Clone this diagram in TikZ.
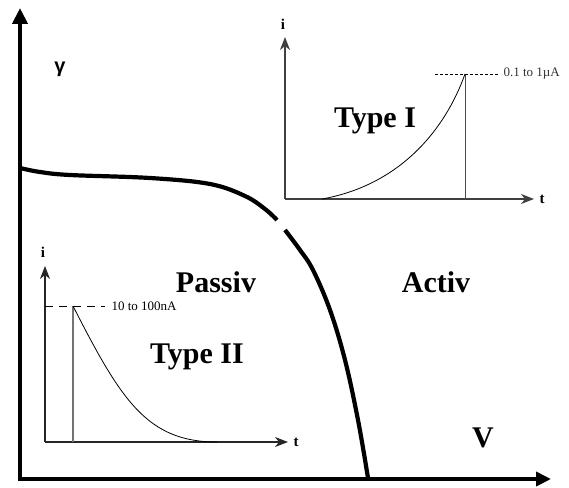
\documentclass[tikz,border=0pt]{standalone}
\usepackage{fontspec}
\setmainfont{Liberation Serif}
\newfontfamily\gsans{Liberation Sans}
\usetikzlibrary{arrows.meta}
\begin{document}
\begin{tikzpicture}[x=1pt,y=-1pt,
  bigaxis/.style={line width=4.2pt,-{Triangle[length=16pt,width=15pt]}},
  smallaxis/.style={line width=1.5pt,draw=black!75,-{Stealth[length=13pt,width=10pt,inset=4pt]}},
  thin/.style={line width=0.8pt},
  bigcurve/.style={line width=4.2pt,line cap=butt},
  region/.style={font=\fontsize{30}{30}\selectfont\bfseries,anchor=base},
  small/.style={font=\fontsize{13}{13}\selectfont},
  axlab/.style={font=\fontsize{15}{15}\selectfont\bfseries}]
\useasboundingbox (0,0) rectangle (569,487);
% main axes
\coordinate (O) at (20,479);
\coordinate (Ytop) at (20,8);
\coordinate (Xend) at (551,479);
\draw[bigaxis] (20,477) -- (Ytop);
\draw[bigaxis,-{Triangle[length=15pt,width=14pt]}] (18,479) -- (Xend);
\node (gamma) at (60,69) {\gsans\fontsize{20}{20}\selectfont\bfseries γ};
% big curve
\draw[bigcurve] plot[smooth,tension=0.6] coordinates {(20,168) (40,172) (70,175) (150,178) (210,184) (245,196) (265,209) (277,220)};
\draw[bigcurve] plot[smooth,tension=0.6] coordinates {(285,230) (300,250) (313,270) (330,310) (345,360) (358,420) (368,478)};
% region labels
\node[region] (passiv) at (216,292) {Passiv};
\node[region] (activ) at (436,292) {Activ};
\node[region] (V) at (483,447) {V};
\node[region] (t1) at (375,127) {Type I};
\node[region] (t2) at (197,363) {Type II};
% Type I inset
\coordinate (A1) at (285,199);
\coordinate (A1i) at (285,37);
\coordinate (A1t) at (534,199);
\coordinate (P1) at (465,74);
\coordinate (P1b) at (465,199);
\coordinate (D1) at (435,74);
\coordinate (S1) at (322,199);
\draw[smallaxis] (A1) -- (A1i);
\draw[smallaxis] (A1) -- (A1t);
\draw[thin,black!70] (P1b) -- (P1);
\draw[thin,dashed,dash pattern=on 3pt off 2pt] (D1) -- (498,74);
\draw[thin] (S1) .. controls (400,185) and (445,130) .. (P1);
\node[small,anchor=west,black!80] (lab1) at (500,74) {0.1 to 1µA};
\node[axlab] (i1) at (283,24) {i};
\node[axlab] (tt1) at (542,199) {t};
% Type II inset
\coordinate (A2) at (45,442);
\coordinate (A2i) at (45,266);
\coordinate (A2t) at (288,442);
\coordinate (P2) at (73,306);
\coordinate (P2b) at (73,442);
\coordinate (E2) at (217,442);
\draw[smallaxis,black!85] (A2) -- (A2i);
\draw[smallaxis,black!85] (A2) -- (A2t);
\draw[thin,black!55,line width=1.2pt] (P2b) -- (P2);
\draw[thin,dash pattern=on 8pt off 6pt] (A2 |- P2) -- (105,306);
\draw[thin] (P2) .. controls (121,400) and (147,442) .. (E2);
\node[small,anchor=west] (lab2) at (108,306) {10 to 100nA};
\node[axlab] (i2) at (43,252) {i};
\node[axlab] (tt2) at (296,442) {t};
\end{tikzpicture}
\end{document}
